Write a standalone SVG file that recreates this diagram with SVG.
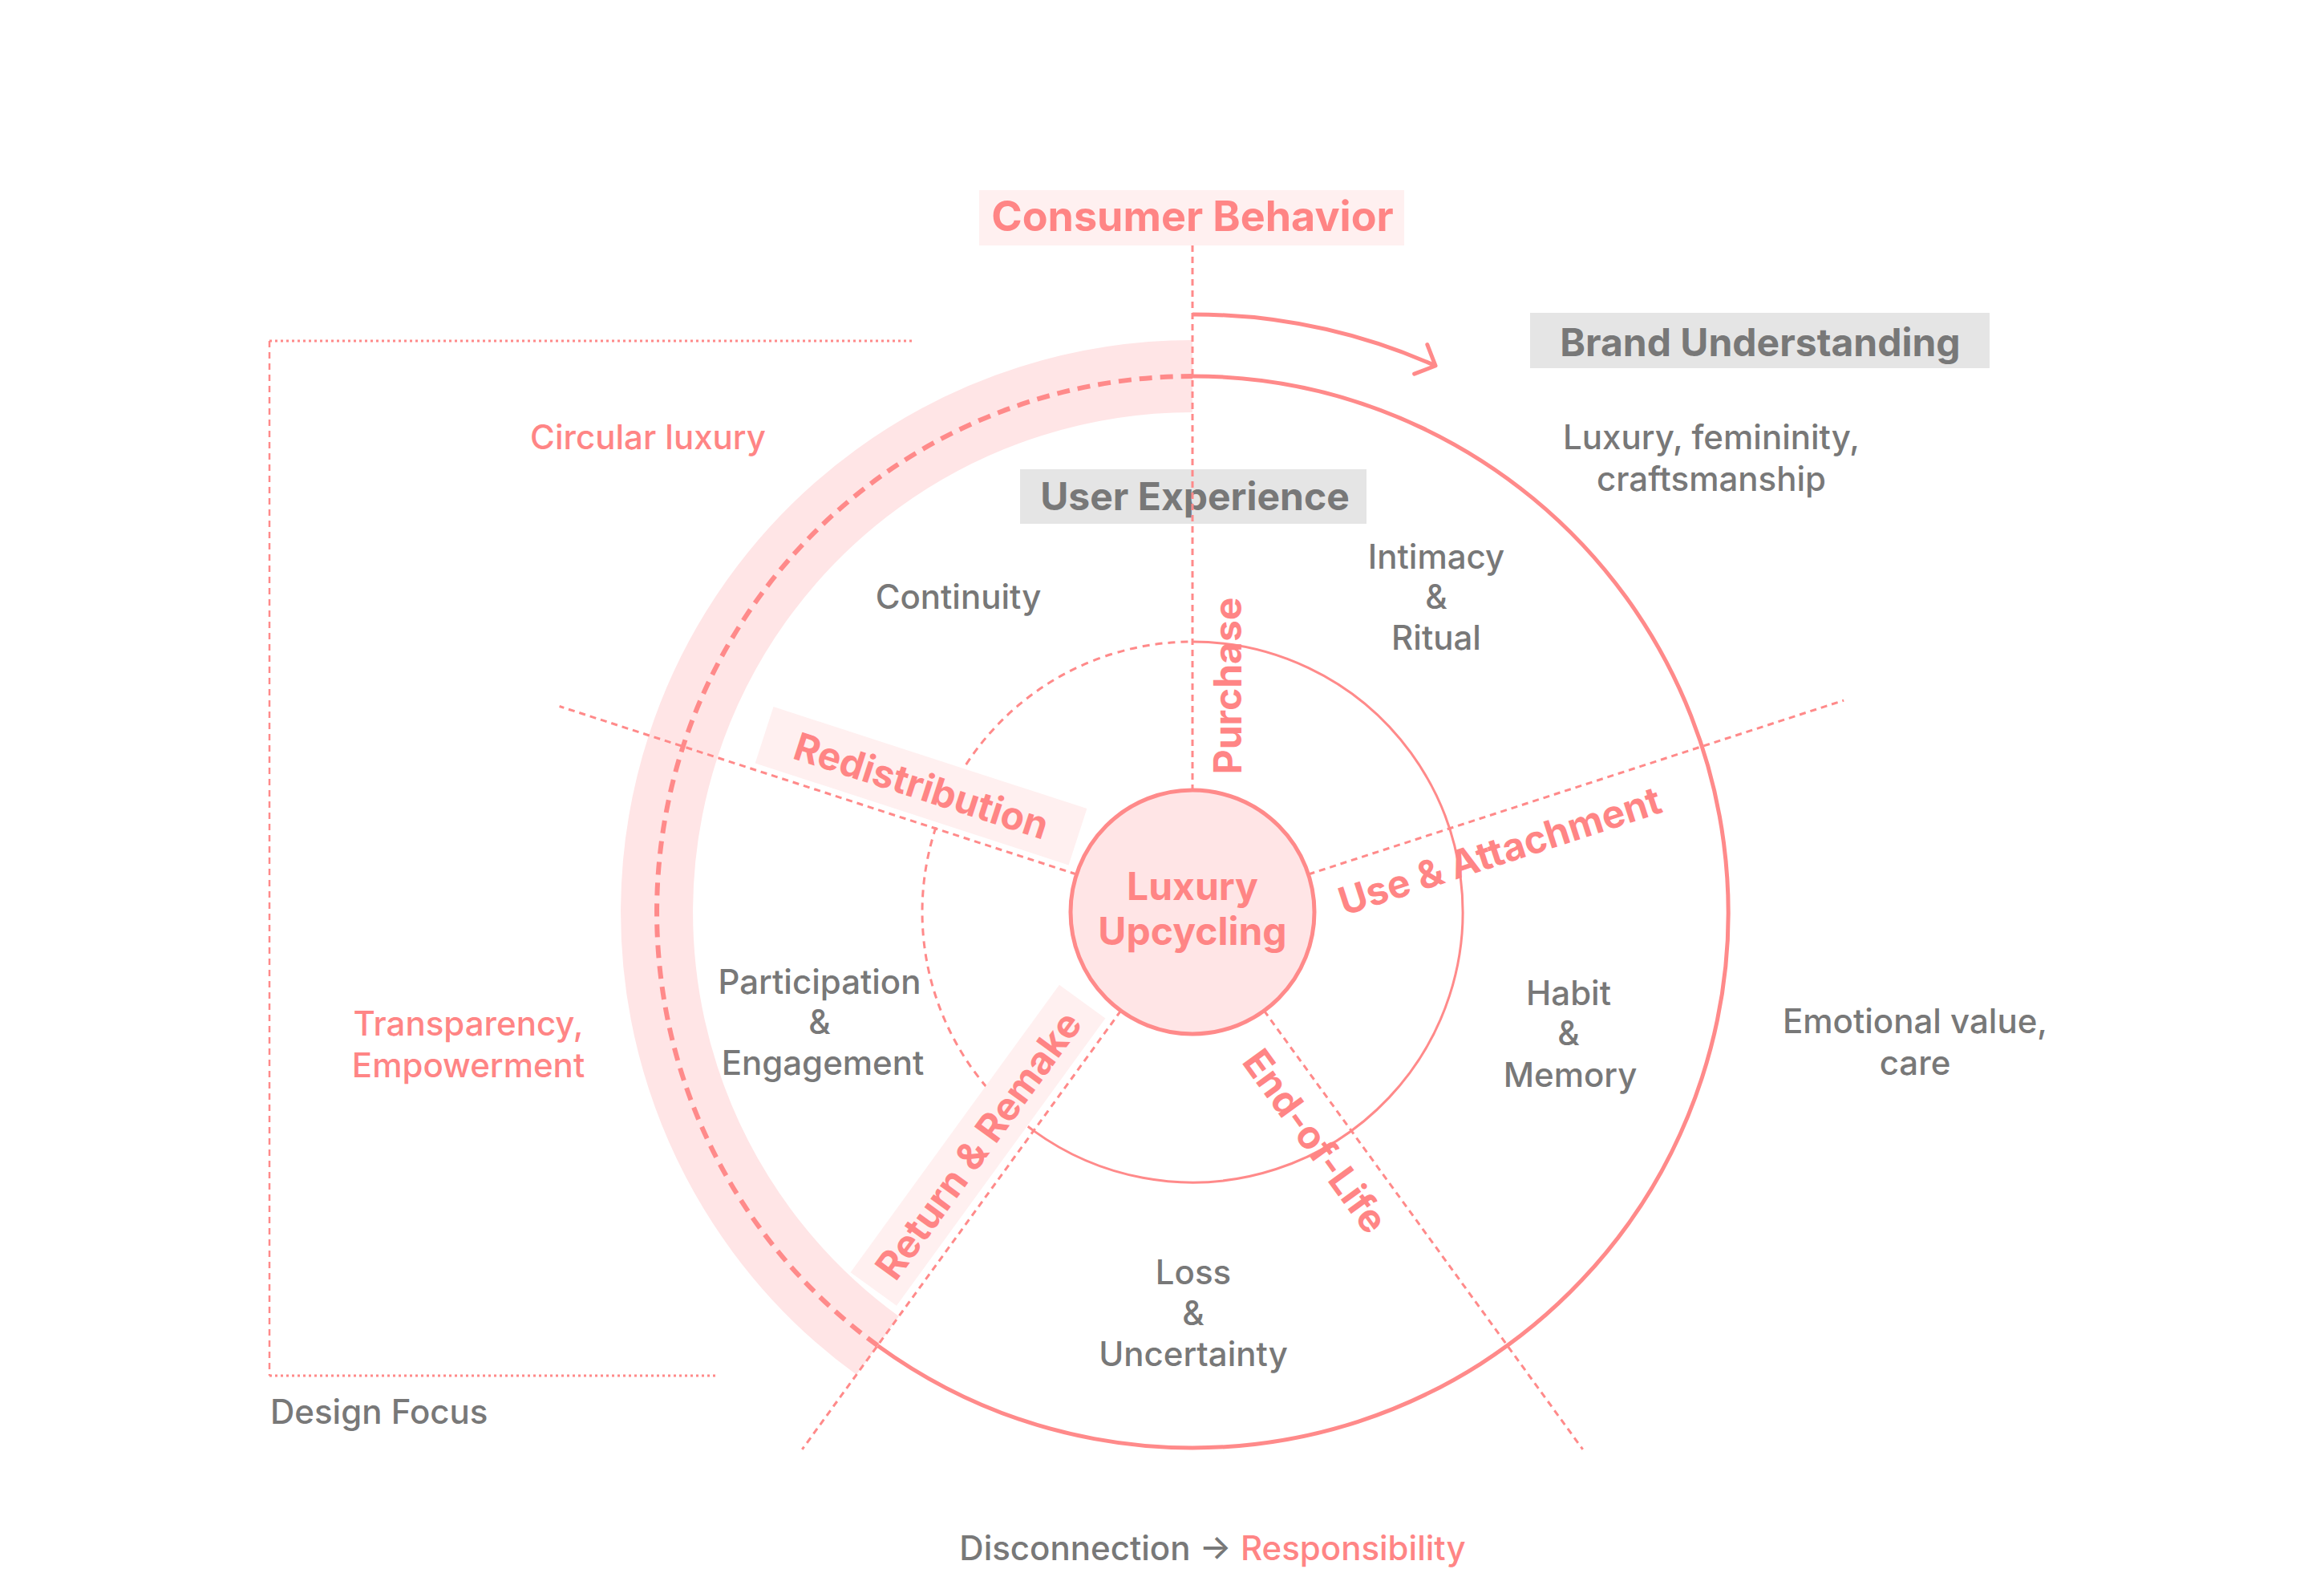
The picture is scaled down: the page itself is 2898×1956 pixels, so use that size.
<svg xmlns="http://www.w3.org/2000/svg" width="2898" height="1956" viewBox="0 0 2898 1956">
<defs>
<style>
.t{font-family:Inter,'Liberation Sans',sans-serif;}
.g{fill:#787878;font-size:42px;font-weight:500;text-anchor:middle;}
.pk{fill:#FF8585;}
.lbl{fill:#FF8585;font-size:48px;font-weight:700;text-anchor:middle;}
.hd{font-size:48px;font-weight:700;text-anchor:middle;}
.dl{fill:none;stroke:#FF8A8A;stroke-width:3;stroke-dasharray:8 6;}
.ring{fill:none;stroke:#FF8A8A;}
.box-p{fill:#FFF0F0;}
.box-g{fill:#E5E5E5;}
</style>
<marker id="chev" markerUnits="userSpaceOnUse" viewBox="-30 -30 60 60" markerWidth="60" markerHeight="60" refX="0" refY="0" orient="auto" overflow="visible">
<path d="M-20,-20 L0,0 L-20,20" fill="none" stroke="#FF8A8A" stroke-width="5" stroke-linecap="round" stroke-linejoin="round"/>
</marker>
</defs>
<rect width="2898" height="1956" fill="#FFFFFF"/>

<g id="design-focus-bracket">
<path d="M336,425 H1140" fill="none" stroke="#FF8A8A" stroke-width="3" stroke-dasharray="3 4"/>
<path d="M336,425 V1715" fill="none" stroke="#FF8A8A" stroke-width="2.5" stroke-dasharray="8 6"/>
<path d="M336,1715 H894" fill="none" stroke="#FF8A8A" stroke-width="3" stroke-dasharray="3 4"/>
</g>

<g id="rings">
<path d="M1094.4,1677.4 A668,668 0 0,1 1487,469" fill="none" stroke="#FFE5E6" stroke-width="90"/>
<path class="ring" d="M1487,469 A668,668 0 1,1 1094.4,1677.4" stroke-width="5"/>
<path class="ring" d="M1094.4,1677.4 A668,668 0 0,1 1487,469" stroke-width="6" stroke-dasharray="16 10"/>
<path class="ring" d="M1487,800 A337,337 0 1,1 1288.9,1409.6" stroke-width="3"/>
<path class="ring" d="M1288.9,1409.6 A337,337 0 0,1 1487,800" stroke-width="3" stroke-dasharray="9 7"/>
</g>

<g id="consumer-behavior">
<rect class="box-p" x="1221" y="237" width="530" height="69"/>
<text class="t hd pk" x="1487" y="288" style="font-size:52px">Consumer Behavior</text>
</g>
<g id="brand-understanding">
<rect class="box-g" x="1908" y="390" width="573" height="69"/>
<text class="t hd" x="2195" y="444" fill="#787878">Brand Understanding</text>
</g>
<g id="user-experience">
<rect class="box-g" x="1272" y="585" width="432" height="68"/>
<text class="t hd" x="1490" y="636" fill="#787878">User Experience</text>
</g>

<g id="label-redistribution" transform="translate(1487,1137) rotate(18)">
<rect class="box-p" x="-576" y="-82" width="411" height="74"/>
<text class="t lbl" x="-370" y="-28">Redistribution</text>
</g>
<g id="label-return-remake" transform="translate(1487,1137) rotate(-54)">
<rect class="box-p" x="-614" y="-81" width="443" height="71"/>
<text class="t lbl" x="-392" y="-28">Return &amp; Remake</text>
</g>

<g id="connectors">
<path class="dl" d="M1487,306 V985"/>
<path class="dl" d="M1342.4,1090 L697.6,880.5"/>
<path class="dl" d="M1631.6,1090 L2299.2,873.1"/>
<path class="dl" d="M1397.7,1260 L1000.3,1806.9"/>
<path class="dl" d="M1576.3,1260 L1973.7,1806.9"/>
<path d="M1487,392 A745,745 0 0,1 1790,456" fill="none" stroke="#FF8A8A" stroke-width="5" marker-end="url(#chev)"/>
</g>

<g id="label-purchase" transform="translate(1487,1137) rotate(-90)">
<text class="t lbl" x="282" y="61">Purchase</text>
</g>
<g id="label-use-attachment" transform="translate(1487,1137) rotate(-18)">
<text class="t lbl" x="388" y="63">Use &amp; Attachment</text>
</g>
<g id="label-end-of-life" transform="translate(1487,1137) rotate(54)">
<text class="t lbl" x="321" y="61">End-of-Life</text>
</g>

<g id="center">
<circle cx="1487" cy="1137" r="152" fill="#FFE5E6" stroke="#FF8A8A" stroke-width="5"/>
<text class="t lbl" x="1487" y="1122">Luxury</text>
<text class="t lbl" x="1487" y="1178">Upcycling</text>
</g>

<g id="brand-values">
<text class="t g" x="2134" y="560">Luxury, femininity,</text>
<text class="t g" x="2134" y="612">craftsmanship</text>
</g>
<g id="circular-luxury">
<text class="t g pk" x="808" y="560">Circular luxury</text>
</g>
<g id="continuity">
<text class="t g" x="1195" y="759">Continuity</text>
</g>
<g id="intimacy-ritual">
<text class="t g" x="1791" y="709">Intimacy</text>
<text class="t g" x="1791" y="759">&amp;</text>
<text class="t g" x="1791" y="810">Ritual</text>
</g>
<g id="participation-engagement">
<text class="t g" x="1022" y="1239">Participation</text>
<text class="t g" x="1022" y="1289">&amp;</text>
<text class="t g" x="1026" y="1340">Engagement</text>
</g>
<g id="transparency-empowerment">
<text class="t g pk" x="584" y="1291">Transparency,</text>
<text class="t g pk" x="584" y="1343">Empowerment</text>
</g>
<g id="habit-memory">
<text class="t g" x="1956" y="1253">Habit</text>
<text class="t g" x="1956" y="1303">&amp;</text>
<text class="t g" x="1958" y="1355">Memory</text>
</g>
<g id="emotional-value">
<text class="t g" x="2388" y="1288">Emotional value,</text>
<text class="t g" x="2388" y="1340">care</text>
</g>
<g id="loss-uncertainty">
<text class="t g" x="1488" y="1601">Loss</text>
<text class="t g" x="1488" y="1652">&amp;</text>
<text class="t g" x="1488" y="1703">Uncertainty</text>
</g>
<g id="design-focus">
<text class="t g" x="337" y="1775" style="text-anchor:start">Design Focus</text>
</g>
<g id="disconnection-responsibility">
<text class="t g" x="1512" y="1945">Disconnection → <tspan class="pk">Responsibility</tspan></text>
</g>
</svg>
